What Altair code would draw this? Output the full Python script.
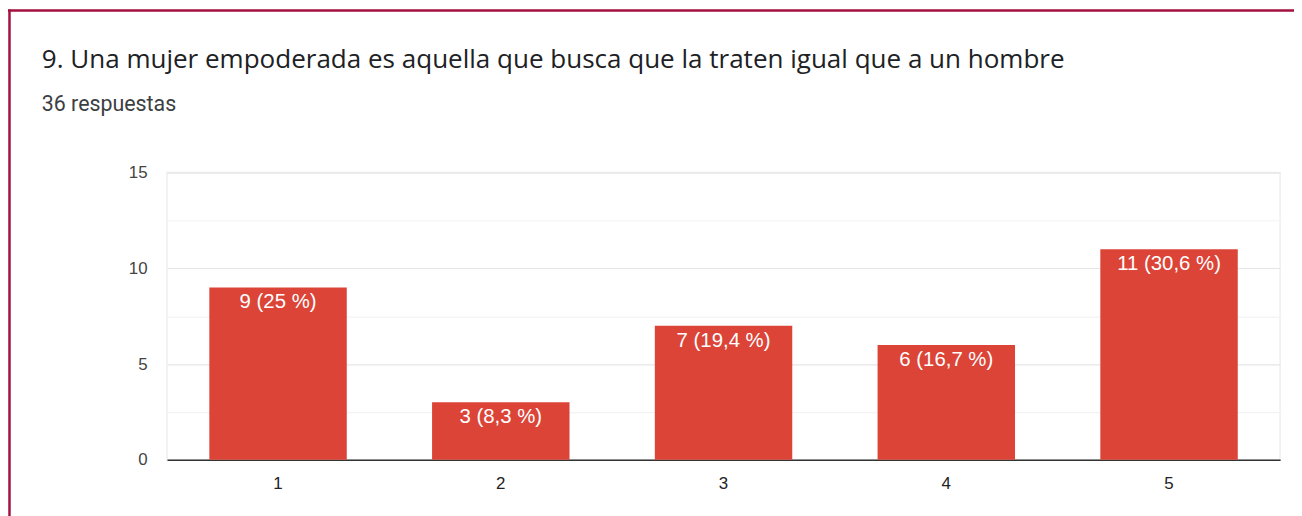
import altair as alt
import pandas as pd

categories = ["1", "2", "3", "4", "5"]
counts = [9, 3, 7, 6, 11]
percents = ["25", "8,3", "19,4", "16,7", "30,6"]

labels = [f"{c} ({p} %)" for c, p in zip(counts, percents)]
df = pd.DataFrame({"cat": categories, "count": counts, "label": labels})

title_text = "9. Una mujer empoderada es aquella que busca que la traten igual que a un hombre"
subtitle_text = "36 respuestas"

x_enc = alt.X("cat:N", sort=categories, title=None,
              scale=alt.Scale(paddingInner=0.383, paddingOuter=0.19),
              axis=alt.Axis(labelAngle=0, ticks=False, domain=True, domainColor="#333333",
                            domainWidth=1.5, labelFont="Liberation Sans", labelFontSize=17,
                            labelColor="#222222", labelPadding=16, grid=False))
y_enc = alt.Y("count:Q", title=None,
              scale=alt.Scale(domain=[0, 15], nice=False),
              axis=alt.Axis(values=[0, 2.5, 5, 7.5, 10, 12.5, 15], ticks=False, domain=False,
                            labelExpr="datum.value % 5 === 0 ? datum.label : ''",
                            labelFont="Liberation Sans", labelFontSize=17, labelColor="#444444",
                            labelPadding=20,
                            gridColor={"condition": {"test": "datum.value % 5 === 0", "value": "#e6e6e6"},
                                       "value": "#f3f3f3"},
                            gridWidth=1.2))

bars = alt.Chart(df).mark_bar(color="#db4437").encode(x=x_enc, y=y_enc)

text = alt.Chart(df).mark_text(color="white", font="Liberation Sans", fontSize=20.5,
                               baseline="top", dy=5).encode(
    x=alt.X("cat:N", sort=categories), y="count:Q", text="label:N")

one = pd.DataFrame({"k": [0]})
title_mark = alt.Chart(pd.DataFrame({"t": [title_text]})).mark_text(
    font="Open Sans", fontSize=26.2, color="#202124", align="left", baseline="alphabetic").encode(
    x=alt.value(-126), y=alt.value(-105), text="t:N")
subtitle_mark = alt.Chart(pd.DataFrame({"t": [subtitle_text]})).mark_text(
    font="Roboto", fontSize=21.5, color="#3c4043", align="left", baseline="alphabetic").encode(
    x=alt.value(-126), y=alt.value(-62), text="t:N")

border_top = alt.Chart(one).mark_rule(color="#a3123f", strokeWidth=2.5, clip=False).encode(
    x=alt.value(-160), x2=alt.value(1140), y=alt.value(-163))
border_left = alt.Chart(one).mark_rule(color="#a3123f", strokeWidth=2.5, clip=False).encode(
    x=alt.value(-158.5), y=alt.value(-164), y2=alt.value(400))

chart = alt.layer(bars, text, title_mark, subtitle_mark, border_top, border_left).properties(
    width=1120, height=289,
    autosize=alt.AutoSizeParams(type="none"),
    padding={"left": 160, "top": 164, "right": 14, "bottom": 60},
).configure_view(stroke="#eeeeee", strokeWidth=1.5)

chart.save("out.html", embed_options={"renderer": "svg", "actions": False})
